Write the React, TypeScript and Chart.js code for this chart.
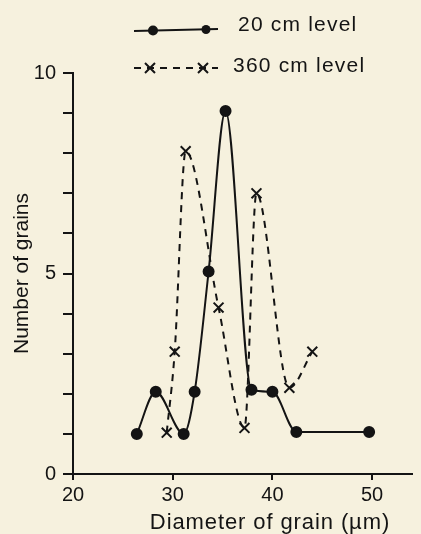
import React, { useEffect, useRef } from "react";
import { Chart, registerables } from "chart.js";

Chart.register(...registerables);

// 20 cm level (solid line, filled dots)
const level20X = [26.4, 28.3, 31.1, 32.2, 33.6, 35.3, 37.9, 40.0, 42.4, 49.7];
const level20Y = [1.0, 2.05, 1.0, 2.05, 5.05, 9.05, 2.1, 2.05, 1.05, 1.05];
// 360 cm level (dashed line, crosses)
const level360X = [29.4, 30.2, 31.3, 34.6, 37.2, 38.4, 41.7, 44.0];
const level360Y = [1.03, 3.05, 8.05, 4.15, 1.15, 7.0, 2.15, 3.05];

const seriesNames = ["20 cm level", "360 cm level"];
const yTickLabels = [0, 5, 10];
const xTitle = "Diameter of grain (µm)";
const yTitle = "Number of grains";

const INK = "#141414";
const BG = "rgb(246,241,222)";
const FONT = "'Liberation Sans', Arial, Helvetica, sans-serif";

const handPlugin = {
  id: "handLegendAndTitle",
  afterDraw(chart: any) {
    const ctx: CanvasRenderingContext2D = chart.ctx;
    const ds = chart.data.datasets;
    ctx.save();
    ctx.fillStyle = INK;
    ctx.strokeStyle = INK;
    // legend row 1
    ctx.lineWidth = ds[0].borderWidth;
    ctx.setLineDash([]);
    ctx.beginPath();
    ctx.moveTo(134, 31);
    ctx.lineTo(218, 29);
    ctx.stroke();
    [153, 206].forEach((x) => {
      ctx.beginPath();
      ctx.arc(x, x < 180 ? 30.5 : 29.5, x < 180 ? 5 : 4.5, 0, Math.PI * 2);
      ctx.fill();
    });
    // legend row 2
    ctx.lineWidth = ds[1].borderWidth;
    ctx.setLineDash(ds[1].borderDash);
    ctx.beginPath();
    ctx.moveTo(134, 68);
    ctx.lineTo(218, 68);
    ctx.stroke();
    ctx.setLineDash([]);
    [150, 203].forEach((x) => {
      const r = 5;
      ctx.beginPath();
      ctx.moveTo(x - r, 68 - r);
      ctx.lineTo(x + r, 68 + r);
      ctx.moveTo(x + r, 68 - r);
      ctx.lineTo(x - r, 68 + r);
      ctx.stroke();
    });
    ctx.font = `21px ${FONT}`;
    (ctx as any).letterSpacing = "1.2px";
    ctx.textAlign = "left";
    ctx.textBaseline = "alphabetic";
    ctx.fillText(seriesNames[0], 238, 31);
    ctx.fillText(seriesNames[1], 233, 72);
    // x axis title
    ctx.font = `22px ${FONT}`;
    (ctx as any).letterSpacing = "0.9px";
    ctx.textAlign = "center";
    ctx.textBaseline = "middle";
    ctx.fillText(xTitle, 270, 523);
    (ctx as any).letterSpacing = "0px";
    ctx.restore();
  },
};

export default function App() {
  const ref = useRef<HTMLCanvasElement | null>(null);

  useEffect(() => {
    if (!ref.current) return;
    const chart = new Chart(ref.current, {
      type: "line",
      data: {
        datasets: [
          {
            label: seriesNames[0],
            data: level20X.map((x, i) => ({ x, y: level20Y[i] })),
            borderColor: INK,
            backgroundColor: INK,
            borderWidth: 2,
            pointStyle: "circle",
            pointRadius: 5,
            pointBackgroundColor: INK,
            pointBorderColor: INK,
            cubicInterpolationMode: "monotone",
            fill: false,
          },
          {
            label: seriesNames[1],
            data: level360X.map((x, i) => ({ x, y: level360Y[i] })),
            borderColor: INK,
            backgroundColor: INK,
            borderWidth: 2,
            borderDash: [7, 6],
            pointStyle: "crossRot",
            pointRadius: 7,
            pointBorderWidth: 2,
            pointBorderColor: INK,
            cubicInterpolationMode: "monotone",
            fill: false,
          },
        ],
      },
      options: {
        animation: false,
        responsive: false,
        events: [],
        layout: { padding: { top: 73, right: 0, bottom: 0, left: 0 } },
        plugins: {
          legend: { display: false },
          tooltip: { enabled: false },
        },
        scales: {
          x: {
            type: "linear",
            min: 20,
            max: 54,
            afterFit: (s: any) => {
              s.height = 60;
            },
            ticks: {
              stepSize: 10,
              includeBounds: false,
              color: INK,
              padding: 3,
              font: { family: FONT, size: 20 },
              maxRotation: 0,
            },
            grid: {
              display: true,
              drawOnChartArea: false,
              drawTicks: true,
              tickLength: 6,
              color: INK,
              lineWidth: 2,
            },
            border: { display: true, color: INK, width: 2 },
            title: { display: false },
          },
          y: {
            type: "linear",
            min: 0,
            max: 10,
            afterFit: (s: any) => {
              s.width = 73;
            },
            ticks: {
              stepSize: 1,
              autoSkip: false,
              color: INK,
              padding: 7,
              font: { family: FONT, size: 20 },
              callback: (v: any) => (yTickLabels.includes(Number(v)) ? String(v) : ""),
            },
            grid: {
              display: true,
              drawOnChartArea: false,
              drawTicks: true,
              tickLength: 10,
              color: INK,
              lineWidth: 2,
            },
            border: { display: true, color: INK, width: 2 },
            title: {
              display: true,
              text: yTitle,
              color: INK,
              font: { family: FONT, size: 21, lineHeight: 1.2 },
              padding: { top: 10, bottom: 0 },
            },
          },
        },
      },
      plugins: [handPlugin],
    } as any);
    return () => chart.destroy();
  }, []);

  return (
    <div
      style={{
        position: "fixed",
        left: 0,
        top: 0,
        width: 421,
        height: 534,
        background: BG,
      }}
    >
      <canvas ref={ref} width={421} height={534} style={{ display: "block" }} />
    </div>
  );
}
